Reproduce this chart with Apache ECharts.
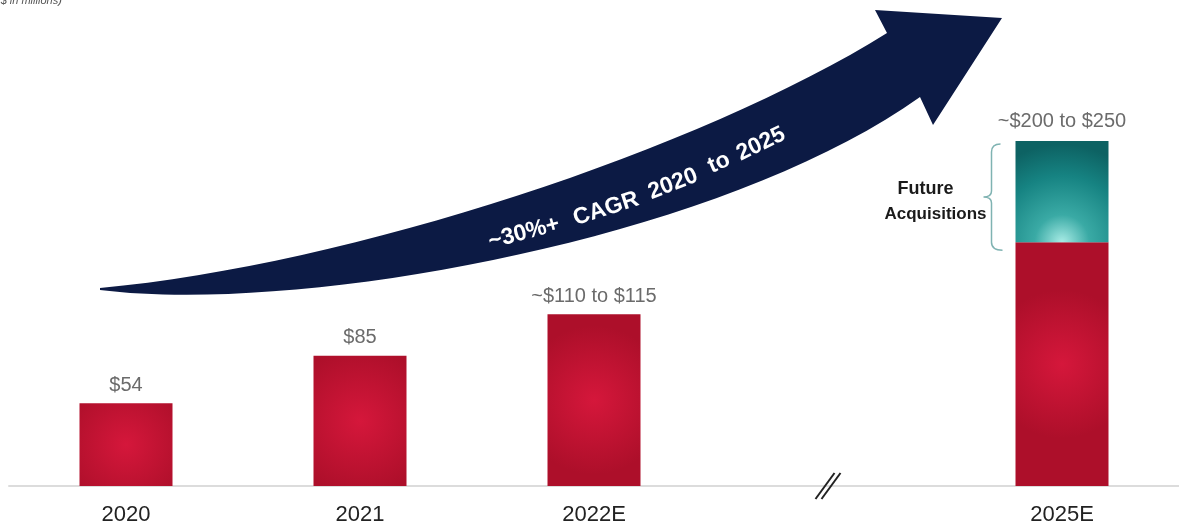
<!DOCTYPE html>
<html><head><meta charset="utf-8">
<script src="https://cdn.jsdelivr.net/npm/echarts@6/dist/echarts.min.js"></script>
<style>html,body{margin:0;padding:0;background:#fff;}#c{width:1179px;height:531px;}</style>
</head><body><div id="c"></div>
<script>
// ---- data ----
const categories = ['2020', '2021', '2022E', '', '2025E'];
const organicValues = [54, 85, 112, null, 159];
const acquisitionValues = [null, null, null, null, 66];
const organicLabels = ['$54', '$85', '~$110 to $115', '', ''];
const totalLabels = ['', '', '', '', '~$200 to $250'];
const arrowWords = ['~30%+', 'CAGR', '2020', 'to', '2025'];
const unitNote = '($ in millions)';
const bracketLabel = ['Future', 'Acquisitions'];
const breakIndex = 3;
const yMax = 300;

const FONT = '"Liberation Sans", Arial, sans-serif';

// custom shapes
const ArrowShape = echarts.graphic.extendShape({
  shape: {},
  buildPath(ctx) {
    ctx.moveTo(100, 288);
    ctx.bezierCurveTo(350, 265, 700, 150, 887, 33);
    ctx.lineTo(875, 10);
    ctx.lineTo(1002, 18);
    ctx.lineTo(933, 125);
    ctx.lineTo(920, 97);
    ctx.bezierCurveTo(720, 240, 300, 315, 100, 290);
    ctx.closePath();
  }
});
echarts.graphic.registerShape('cagrArrow', ArrowShape);

const BraceShape = echarts.graphic.extendShape({
  shape: { x: 0, top: 0, mid: 0, bot: 0 },
  buildPath(ctx, s) {
    const x = s.x, t = s.top, m = s.mid, b = s.bot;
    ctx.moveTo(x + 9, t);
    ctx.quadraticCurveTo(x, t, x, t + 8);
    ctx.lineTo(x, m - 6);
    ctx.quadraticCurveTo(x, m, x - 8, m);
    ctx.quadraticCurveTo(x, m, x, m + 6);
    ctx.lineTo(x, b - 8);
    ctx.quadraticCurveTo(x, b, x + 11, b);
  }
});
echarts.graphic.registerShape('brace', BraceShape);

const chart = echarts.init(document.getElementById('c'));

const redFill = new echarts.graphic.RadialGradient(0.5, 0.5, 0.8, [
  { offset: 0, color: '#d5173b' }, { offset: 1, color: '#ad0f2a' }]);
const tealFill = new echarts.graphic.RadialGradient(0.5, 1.0, 1.05, [
  { offset: 0, color: '#a9ece6' }, { offset: 0.28, color: '#3aaaa5' },
  { offset: 0.68, color: '#168382' }, { offset: 1, color: '#0d6263' }]);

const option = {
  backgroundColor: '#ffffff',
  animation: false,
  grid: { left: 9, right: 0, top: 26, bottom: 45 },
  xAxis: {
    type: 'category', data: categories,
    axisLine: { lineStyle: { color: '#dcdcdc', width: 2 } },
    axisTick: { show: false },
    axisLabel: { color: '#222222', fontSize: 22, fontFamily: FONT, margin: 18 }
  },
  yAxis: { type: 'value', min: 0, max: yMax, show: false, splitLine: { show: false } },
  series: [
    {
      name: 'Organic', type: 'bar', stack: 'total', barWidth: 93,
      data: organicValues,
      itemStyle: { color: redFill },
      label: {
        show: true, position: 'top', distance: 8, color: '#6b6b6b', fontSize: 20, fontFamily: FONT,
        formatter: p => organicLabels[p.dataIndex]
      }
    },
    {
      name: 'Future Acquisitions', type: 'bar', stack: 'total', barWidth: 93,
      data: acquisitionValues,
      itemStyle: { color: tealFill },
      label: {
        show: true, position: 'top', distance: 10, color: '#6b6b6b', fontSize: 20, fontFamily: FONT,
        formatter: p => totalLabels[p.dataIndex]
      }
    }
  ]
};
chart.setOption(option);

// ---- decorations placed from the chart's own scales ----
const px = (i, v) => chart.convertToPixel({ gridIndex: 0 }, [i, v]);
const last = categories.length - 1;
const total = organicValues[last] + acquisitionValues[last];
const barHalf = 93 / 2;
const bx = px(last, 0)[0] - barHalf - 24;
const bTop = px(last, total)[1] + 3;
const bBot = px(last, organicValues[last])[1] + 8;
const bMid = (bTop + bBot) / 2;
const brk = px(breakIndex, 0);

const wordPos = [[524, 233, 0.26], [606, 209, 0.31], [673, 184, 0.37], [719, 163, 0.42], [761, 144, 0.45]];

const graphics = [
  { type: 'cagrArrow', z: 10, shape: {}, style: { fill: '#0c1a44' } },
  ...arrowWords.map((w, k) => ({
    type: 'text', z: 11, x: wordPos[k][0], y: wordPos[k][1], rotation: wordPos[k][2],
    style: { text: w, fill: '#ffffff', font: 'bold 23px ' + FONT, align: 'center', verticalAlign: 'middle' }
  })),
  {
    type: 'text', x: -3, y: -5,
    style: { text: unitNote, fill: '#555', font: 'italic 11px ' + FONT, align: 'left', verticalAlign: 'top' }
  },
  {
    type: 'brace', z: 10, shape: { x: bx, top: bTop, mid: bMid, bot: bBot },
    style: { fill: null, stroke: '#7fb3b2', lineWidth: 1.5 }
  },
  {
    type: 'text', x: bx - 66, y: bMid - 8,
    style: { text: bracketLabel[0], fill: '#1a1a1a', font: 'bold 18px ' + FONT, align: 'center', verticalAlign: 'middle' }
  },
  {
    type: 'text', x: bx - 5, y: bMid + 17,
    style: { text: bracketLabel[1], fill: '#1a1a1a', font: 'bold 17px ' + FONT, align: 'right', verticalAlign: 'middle' }
  },
  {
    type: 'line', z: 10,
    shape: { x1: brk[0] - 12.5, y1: brk[1] + 13, x2: brk[0] + 6.5, y2: brk[1] - 13 },
    style: { stroke: '#222', lineWidth: 2 }
  },
  {
    type: 'line', z: 10,
    shape: { x1: brk[0] - 6.5, y1: brk[1] + 13, x2: brk[0] + 12.5, y2: brk[1] - 13 },
    style: { stroke: '#222', lineWidth: 2 }
  }
];
chart.setOption({ graphic: { elements: graphics } });
</script>
</body></html>
